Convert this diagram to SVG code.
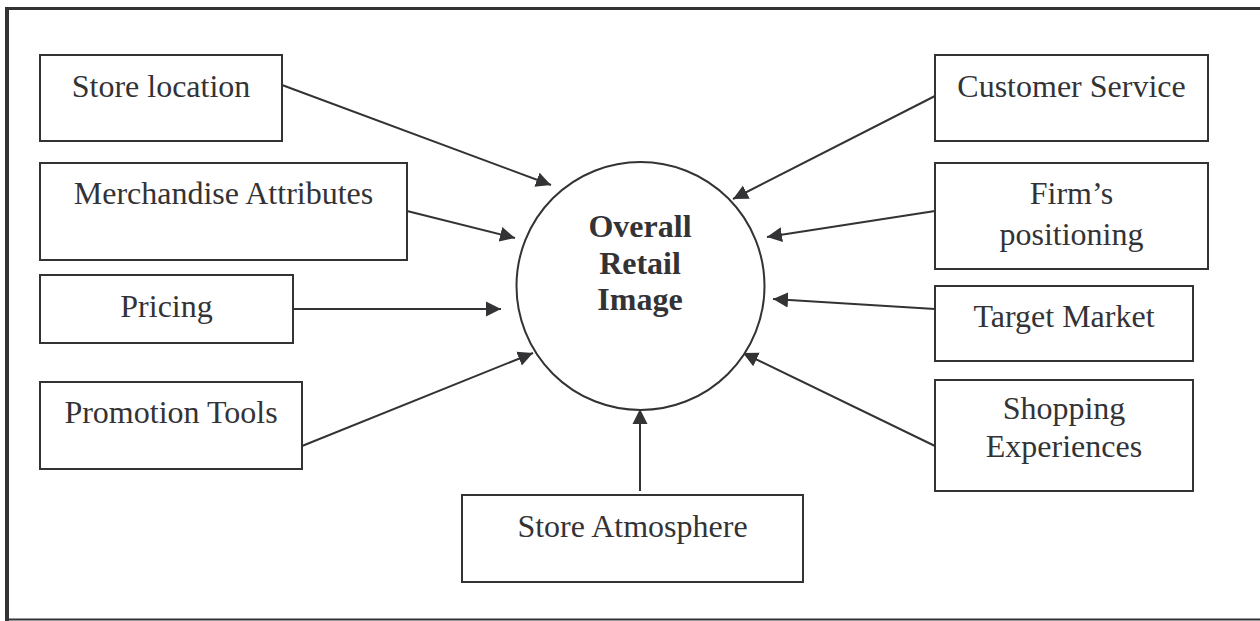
<svg xmlns="http://www.w3.org/2000/svg" width="1260" height="621" viewBox="0 0 1260 621">
<defs>
<style>
.box{fill:#fff;stroke:#333336;stroke-width:2}
.t{font-family:"Liberation Serif","Times New Roman",serif;font-size:32px;fill:#333336;text-anchor:middle}
.b{font-weight:bold}
.c{stroke:#333336;stroke-width:2;fill:none;marker-end:url(#ah)}
.frame{stroke:#333336;fill:none}
</style>
<marker id="ah" viewBox="0 0 16 16" refX="15" refY="8" markerWidth="16" markerHeight="16" markerUnits="userSpaceOnUse" orient="auto">
<path d="M0,0.5 L15,8 L0,15.5 Z" fill="#333336"/>
</marker>
</defs>
<rect width="1260" height="621" fill="#fff"/>
<g id="frame">
<line class="frame" x1="6" y1="8.5" x2="1260" y2="8.5" stroke-width="3"/>
<line class="frame" x1="7" y1="7" x2="7" y2="621" stroke-width="4"/>
<line class="frame" x1="7" y1="619.5" x2="1260" y2="619.5" stroke-width="2"/>
</g>
<g id="connectors">
<line class="c" x1="282" y1="85" x2="551" y2="185"/>
<line class="c" x1="407" y1="211" x2="515" y2="238"/>
<line class="c" x1="293" y1="309" x2="501" y2="309"/>
<line class="c" x1="302" y1="446" x2="533" y2="353"/>
<line class="c" x1="935" y1="96" x2="733" y2="199"/>
<line class="c" x1="935" y1="211" x2="767" y2="237"/>
<line class="c" x1="935" y1="309" x2="773" y2="299"/>
<line class="c" x1="935" y1="446" x2="743" y2="353"/>
<line class="c" x1="640" y1="491" x2="640" y2="409"/>
</g>
<g id="center">
<circle cx="640.5" cy="286" r="124" fill="#fff" stroke="#333336" stroke-width="2"/>
<text class="t b" x="640" y="237">Overall</text>
<text class="t b" x="640" y="274">Retail</text>
<text class="t b" x="640" y="310">Image</text>
</g>
<g id="store-location">
<rect class="box" x="40" y="55" width="242" height="86"/>
<text class="t" x="161" y="97">Store location</text>
</g>
<g id="merchandise-attributes">
<rect class="box" x="40" y="163" width="367" height="97"/>
<text class="t" x="223.5" y="204">Merchandise Attributes</text>
</g>
<g id="pricing">
<rect class="box" x="40" y="275" width="253" height="68"/>
<text class="t" x="166.5" y="317">Pricing</text>
</g>
<g id="promotion-tools">
<rect class="box" x="40" y="382" width="262" height="87"/>
<text class="t" x="171" y="423">Promotion Tools</text>
</g>
<g id="customer-service">
<rect class="box" x="935" y="55" width="273" height="86"/>
<text class="t" x="1071.5" y="97">Customer Service</text>
</g>
<g id="firms-positioning">
<rect class="box" x="935" y="163" width="273" height="106"/>
<text class="t" x="1071.5" y="204">Firm’s</text>
<text class="t" x="1071.5" y="245">positioning</text>
</g>
<g id="target-market">
<rect class="box" x="935" y="286" width="258" height="75"/>
<text class="t" x="1064" y="327">Target Market</text>
</g>
<g id="shopping-experiences">
<rect class="box" x="935" y="380" width="258" height="111"/>
<text class="t" x="1064" y="419">Shopping</text>
<text class="t" x="1064" y="457">Experiences</text>
</g>
<g id="store-atmosphere">
<rect class="box" x="462" y="495" width="341" height="87"/>
<text class="t" x="632.5" y="537">Store Atmosphere</text>
</g>
</svg>
